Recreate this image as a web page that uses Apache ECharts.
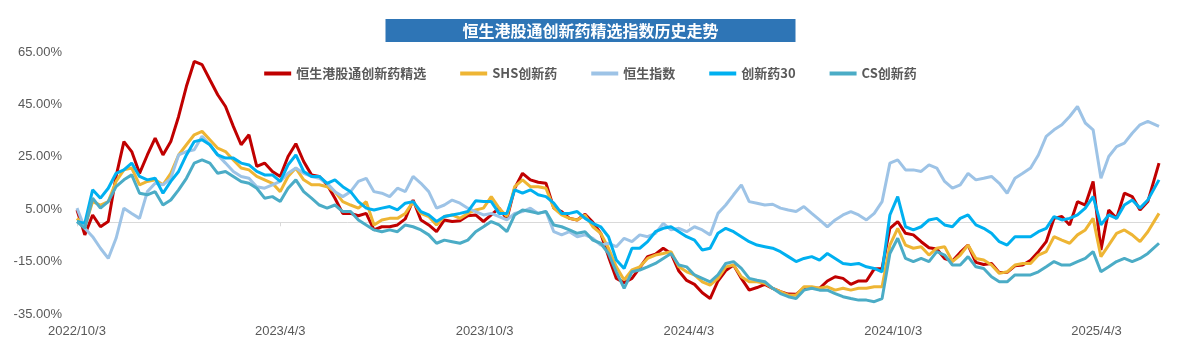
<!DOCTYPE html>
<html><head><meta charset="utf-8">
<script src="https://cdn.jsdelivr.net/npm/echarts@6/dist/echarts.min.js"></script>
<style>html,body{margin:0;padding:0;background:#fff}#c{width:1181px;height:357px}</style>
</head><body><div id="c"></div>
<script>
const titleText = '恒生港股通创新药精选指数历史走势';
const seriesNames = ['恒生港股通创新药精选', 'SHS创新药', '恒生指数', '创新药30', 'CS创新药'];
const tickDays = [0, 182, 365, 548, 731, 913];
const tickLabels = ['2022/10/3', '2023/4/3', '2023/10/3', '2024/4/3', '2024/10/3', '2025/4/3'];
const lastDay = 969;
// weekly sample days since 2022/10/3
const days = [];
for (let i = 0; i < 138; i++) days.push(i * 7);
days.push(lastDay);

const hsSelect = [4.7,-4.8,2.8,-1.7,0.3,17.5,30.8,27.0,18.7,25.7,
32.1,25.7,30.8,40.4,51.9,61.4,60.2,54.4,48.7,44.2,
36.6,29.6,33.4,21.3,22.6,19.4,17.5,25.1,30.0,23.2,
18.1,17.5,14.3,9.2,3.4,3.4,2.5,3.4,-2.9,-1.7,
-1.7,-1.0,1.3,8.5,0.9,-1.0,-3.6,0.9,0.3,0.6,
2.5,2.8,0.3,2.8,5.4,1.3,13.0,18.7,16.2,15.3,
14.9,5.4,4.1,1.5,0.9,3.1,0,-4.2,-13.1,-21.4,
-23.0,-21.4,-17.3,-13.1,-12.2,-9.9,-11.9,-18.6,-22.2,-23.7,
-26.9,-29.1,-22.4,-18.4,-16.3,-21.4,-25.9,-24.9,-23.7,-25.2,
-26.5,-27.4,-27.5,-25.0,-25.2,-25.2,-22.4,-20.8,-21.4,-23.7,
-22.4,-22.4,-17.8,-17.6,-2.3,0.3,-4.2,-4.8,-7.4,-9.7,
-10.2,-13.8,-14.8,-11.5,-8.7,-15.3,-16.1,-15.7,-19.2,-19.1,
-16.6,-16.3,-14.5,-11.2,-7.4,1.5,2.2,-1.0,7.9,6.6,
15.6,-10.6,4.7,1.5,11.1,9.8,4.7,7.9,22.6];

const shsPharma = [1.5,-1.7,7.9,6.6,7.9,15.6,20.0,20.7,14.3,15.6,
16.2,14.3,18.7,25.7,29.6,33.4,34.7,31.5,28.3,27.0,
23.8,20.7,20.0,17.5,16.2,14.9,11.7,17.5,20.7,16.2,
14.3,14.3,13.6,11.7,7.9,6.6,5.4,7.9,-1.0,0.9,
1.5,1.5,3.4,7.9,3.4,2.2,-1.0,2.2,2.8,1.5,
3.4,4.7,5.4,9.8,5.4,2.2,13.6,16.2,13.6,13.6,
13.0,5.4,2.8,1.5,0.9,2.8,-1.7,-4.2,-9.9,-17.0,
-22.0,-18.2,-17.0,-13.8,-12.5,-11.9,-11.2,-17.0,-18.9,-20.1,
-22.7,-24.0,-21.4,-17.0,-16.3,-20.8,-22.7,-22.7,-23.3,-25.2,
-26.5,-27.8,-27.8,-24.6,-24.6,-25.2,-24.6,-25.9,-25.2,-25.9,
-25.2,-25.2,-24.6,-24.6,-8.7,-2.3,-8.7,-9.9,-9.3,-12.5,
-9.9,-9.3,-15.0,-12.5,-8.7,-13.8,-14.4,-16.3,-19.5,-18.9,
-16.3,-15.7,-15.7,-12.5,-11.2,-5.5,-6.8,-8.0,-4.8,-2.9,
1.5,-13.1,-8.7,-4.2,-2.9,-4.8,-7.4,-3.6,3.4];

const hangSeng = [5.4,-2.3,-5.5,-9.9,-13.8,-6.1,5.4,3.4,1.5,11.7,
14.9,14.3,16.8,25.7,27.0,27.7,32.8,29.6,25.7,22.6,
19.4,17.5,16.8,13.6,13.0,14.3,15.6,18.7,20.7,18.7,
17.5,16.8,14.9,11.7,9.8,11.7,15.6,16.8,11.7,11.1,
9.8,13.0,11.7,17.5,14.9,11.7,5.4,6.6,8.5,7.3,
5.4,4.1,2.8,3.4,2.2,0.9,3.4,4.1,5.4,3.4,
4.1,-3.6,-4.8,-3.6,-5.5,-4.8,-6.1,-8.7,-8.0,-9.3,
-6.1,-7.4,-4.8,-5.5,-4.2,-0.4,-2.9,-2.3,-3.6,-1.7,
-2.9,-4.8,3.4,6.6,10.5,14.3,7.9,7.3,6.6,6.9,
5.4,4.7,4.1,6.0,3.4,0.9,-1.7,0.9,2.8,4.1,
2.8,0.9,3.4,7.9,22.6,23.8,20.0,20.0,19.4,21.9,
20.7,15.6,13.0,14.3,18.7,16.2,16.8,17.5,14.9,11.1,
16.8,18.7,20.7,25.7,32.8,35.3,37.2,40.4,44.2,37.9,
35.3,16.8,25.1,28.9,30.2,34.0,37.2,38.5,36.6];

const pharma30 = [0.3,-0.4,12.4,9.2,13.0,18.7,20.0,22.6,17.5,16.2,
16.8,11.1,15.6,19.4,25.7,30.8,31.5,29.6,25.7,24.5,
24.5,22.6,21.9,19.4,18.1,18.1,15.6,21.9,25.7,19.4,
17.5,17.5,14.9,16.2,13.6,11.7,7.9,5.4,4.7,5.4,
6.0,4.7,7.3,7.9,4.1,2.8,0.3,2.2,2.8,3.4,
4.1,8.2,7.9,7.9,3.4,3.4,12.4,11.1,12.4,10.5,
9.8,7.3,3.4,3.4,4.1,1.5,-0.4,-1.7,-5.5,-14.4,
-17.6,-9.9,-9.9,-7.4,-3.6,-2.3,-1.7,-3.6,-5.5,-6.8,
-10.6,-9.9,-4.2,-2.3,-3.6,-5.5,-7.4,-8.7,-9.3,-9.9,
-11.2,-13.1,-15.0,-13.8,-13.1,-14.4,-11.9,-13.8,-15.7,-16.1,
-15.7,-17.0,-17.6,-18.9,2.8,9.8,-1.7,-2.9,-1.7,0.9,
1.5,-1.0,-1.7,1.5,2.8,-1.0,-2.3,-4.2,-7.4,-8.7,
-5.5,-5.5,-5.5,-3.6,-2.3,2.2,0.9,1.5,2.8,5.4,
9.8,-1.0,2.8,1.5,6.6,8.5,5.4,8.5,16.2];

const csPharma = [0.3,-2.3,9.2,5.4,7.9,13.6,16.2,18.1,11.1,10.5,
11.7,6.6,8.5,12.4,16.8,22.6,23.8,22.6,18.7,19.4,
17.5,15.6,14.9,13.0,9.2,9.8,7.9,13.0,16.2,11.7,
9.2,6.6,5.4,6.6,4.1,4.1,0.9,-1.0,-2.9,-3.6,
-2.9,-3.6,-1.0,-1.7,-2.9,-4.8,-8.0,-6.8,-7.4,-8.0,
-6.8,-3.6,-1.7,0.3,-1.0,-3.6,2.8,4.7,4.1,3.4,
4.1,-1.0,-1.7,-2.9,-4.2,-3.6,-6.8,-8.0,-11.9,-18.9,
-25.2,-18.9,-18.2,-17.0,-15.7,-13.8,-11.9,-16.3,-17.0,-20.1,
-21.4,-22.7,-20.1,-15.7,-15.0,-17.6,-21.4,-22.1,-22.7,-25.2,
-27.2,-28.4,-29.1,-25.9,-25.2,-25.9,-25.9,-27.2,-28.4,-29.1,
-29.7,-29.7,-30.3,-29.1,-11.9,-6.1,-13.8,-15.0,-13.8,-15.0,
-11.2,-12.5,-16.3,-16.3,-13.1,-17.0,-17.6,-20.8,-22.7,-22.7,
-20.1,-20.1,-20.1,-18.9,-17.0,-15.0,-16.3,-16.3,-15.0,-13.8,
-11.2,-18.9,-17.0,-15.0,-13.8,-15.0,-13.8,-11.9,-8.0];

const colors = ['#C00000', '#EEB534', '#9DC3E6', '#00B0F0', '#4BACC6'];
const allSeries = [hsSelect, shsPharma, hangSeng, pharma30, csPharma];

const chart = echarts.init(document.getElementById('c'), null, {renderer: 'canvas'});
chart.setOption({
  animation: false,
  backgroundColor: '#ffffff',
  title: {
    text: titleText, left: 'center', top: 19,
    backgroundColor: '#2E75B6',
    padding: [4, 77, 3, 77],
    textStyle: {color: '#ffffff', fontSize: 16, fontWeight: 'bold', lineHeight: 16,
      fontFamily: 'Noto Sans CJK SC'}
  },
  legend: {
    top: 62, left: 'center', itemGap: 34, itemWidth: 27, itemHeight: 4, icon: 'rect',
    textStyle: {color: '#595959', fontSize: 13, fontWeight: 'bold', fontFamily: 'Noto Sans CJK SC'},
    data: seriesNames
  },
  grid: {left: 77, right: 22, top: 52, bottom: 43, containLabel: false},
  xAxis: [{
    type: 'value', min: 0, max: lastDay,
    axisLine: {show: false, onZero: false},
    axisTick: {show: false},
    splitLine: {show: false},
    axisLabel: {
      customValues: tickDays, margin: 11,
      formatter: v => { const k = tickDays.indexOf(v); return k >= 0 ? tickLabels[k] : ''; },
      color: '#595959', fontSize: 13, fontFamily: 'Liberation Sans',
      hideOverlap: false
    }
  }, {
    type: 'value', min: 0, max: lastDay, position: 'bottom',
    axisLine: {show: true, onZero: true, lineStyle: {color: '#D9D9D9', width: 1}},
    axisTick: {show: true, customValues: tickDays, length: 4, inside: false, lineStyle: {color: '#D9D9D9'}},
    axisLabel: {show: false},
    splitLine: {show: false}
  }],
  yAxis: {
    type: 'value', min: -35, max: 65, interval: 20,
    axisLine: {show: false}, axisTick: {show: false}, splitLine: {show: false},
    axisLabel: {formatter: v => v.toFixed(2) + '%', color: '#595959', fontSize: 13,
      fontFamily: 'Liberation Sans', margin: 15}
  },
  series: allSeries.map((vals, k) => ({
    name: seriesNames[k], type: 'line', xAxisIndex: 0, showSymbol: false, symbol: 'none',
    color: colors[k],
    lineStyle: {width: 3, color: colors[k]},
    data: days.map((d, i) => [d, vals[i]])
  }))
});
</script></body></html>
